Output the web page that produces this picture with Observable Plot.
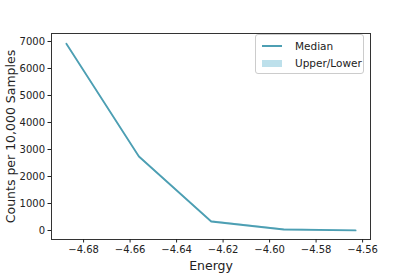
<!DOCTYPE html>
<html><head><meta charset="utf-8">
<script src="https://cdn.jsdelivr.net/npm/d3@7"></script>
<script src="https://cdn.jsdelivr.net/npm/@observablehq/plot@0.6"></script>
<style>
body{margin:0;background:#fff;}
#wrap{position:relative;width:411px;height:274px;font-family:"DejaVu Sans",sans-serif;}
#legend{position:absolute;left:255px;top:34px;width:107px;height:38px;border:1px solid #ccc;border-radius:3px;background:#fff;font-size:10.5px;color:#222;}
.row{position:absolute;left:0;display:flex;align-items:center;}
</style>
</head><body>
<div id="wrap"></div>
<script>
const energy = [-4.6874, -4.6562, -4.6251, -4.5939, -4.5630];
const median = [6915, 2740, 333, 37, 5];
const upper  = [6950, 2775, 365, 55, 12];
const lower  = [6880, 2705, 305, 22, 0];
const xTicks = [-4.68, -4.66, -4.64, -4.62, -4.60, -4.58, -4.56];
const yTicks = [0, 1000, 2000, 3000, 4000, 5000, 6000, 7000];
const lineColor = "#4d9fb3";
const bandColor = "#add8e6";

const data = energy.map((e, i) => ({e, m: median[i], u: upper[i], l: lower[i]}));

const plot = Plot.plot({
  width: 411, height: 274,
  marginLeft: 51, marginRight: 41, marginTop: 33, marginBottom: 35,
  style: {fontFamily: "DejaVu Sans, sans-serif", fontSize: "10px", color: "#222", background: "#fff", overflow: "visible"},
  x: {domain: [-4.6938, -4.5566], label: null},
  y: {domain: [-333, 7296], label: null},
  marks: [
    Plot.areaY(data, {x: "e", y1: "l", y2: "u", fill: bandColor, fillOpacity: 0.8}),
    Plot.line(data, {x: "e", y: "m", stroke: lineColor, strokeWidth: 1.8}),
    Plot.frame({stroke: "#333", strokeWidth: 1}),
    Plot.axisX({ticks: xTicks, tickFormat: d3.format(".2f"), tickSize: 3.5, tickPadding: 3, label: null, fontSize: 10}),
    Plot.axisY({ticks: yTicks, tickFormat: d3.format("d"), tickSize: 3.5, tickPadding: 3, label: null, fontSize: 10}),
    Plot.text(["Energy"], {frameAnchor: "bottom", dy: 30, fontSize: 12.5, fill: "#222"}),
    Plot.text(["Counts per 10,000 Samples"], {frameAnchor: "left", dx: -41, rotate: -90, textAnchor: "middle", fontSize: 12.5, fill: "#222"})
  ]
});
const wrap = document.getElementById("wrap");
wrap.appendChild(plot);
const legend = document.createElement("div");
legend.id = "legend";
legend.innerHTML = `
<div class="row" style="top:3px;height:16px;"><span style="display:inline-block;margin-left:6px;width:20px;height:1.5px;background:${lineColor}"></span><span style="margin-left:13px">Median</span></div>
<div class="row" style="top:20px;height:16px;"><span style="display:inline-block;margin-left:6px;width:20px;height:7px;background:${bandColor};opacity:0.8"></span><span style="margin-left:13px">Upper/Lower</span></div>`;
wrap.appendChild(legend);
</script>
</body></html>
